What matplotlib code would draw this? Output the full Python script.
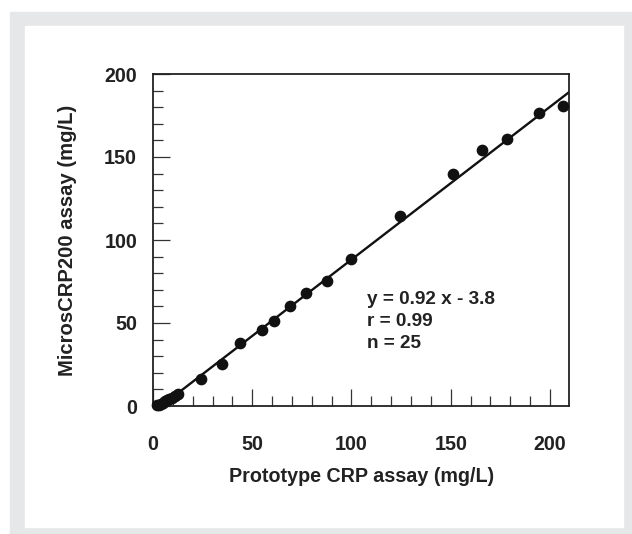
import numpy as np
import matplotlib
matplotlib.use('Agg')
import matplotlib.pyplot as plt
from matplotlib.patches import Rectangle
from matplotlib.ticker import MultipleLocator

plt.rcParams['font.family'] = ['Liberation Sans', 'DejaVu Sans']
plt.rcParams['font.weight'] = 'bold'

# data
prototype = [2, 3, 4, 5, 6, 7, 8, 9.5, 11, 12.8,
             24.0, 34.6, 43.8, 54.9, 61.1, 69.0, 77.1, 87.5, 99.7,
             124.4, 151.3, 165.9, 178.6, 194.5, 206.5]
micros = [0.4, 0.9, 1.5, 2.1, 2.8, 3.4, 4.1, 5.0, 5.9, 7.0,
          16.3, 25.3, 38.1, 45.8, 51.2, 60.2, 67.9, 75.3, 88.4,
          114.6, 139.6, 154.2, 160.6, 176.7, 180.7]
slope = 0.92
intercept = -3.8
stats_text = "y = 0.92 x - 3.8\nr = 0.99\nn = 25"

W, H = 632, 534
fig = plt.figure(figsize=(W/100, H/100), dpi=100)

# grey frame + white panel (pixel boxes)
fig.patches.append(Rectangle((10/W, 0), 1 - 10/W, 1 - 12/H,
                             transform=fig.transFigure, color='#e6e7e9', zorder=-2))
fig.patches.append(Rectangle((25/W, 1 - 527/H), (623-25)/W, (527-26)/H,
                             transform=fig.transFigure, color='white', zorder=-1))

ax = fig.add_axes([153/W, 1 - 406/H, (569-153)/W, (406-74)/H])
ax.set_xlim(0, 209.6)
ax.set_ylim(0, 200)

xx = np.array([0, 209.6])
ax.plot(xx, slope*xx + intercept, color='#111111', lw=1.7, zorder=2)
ax.scatter(prototype, micros, s=55, color='#111111', zorder=3, clip_on=False)

ax.xaxis.set_major_locator(MultipleLocator(50))
ax.xaxis.set_minor_locator(MultipleLocator(10))
ax.yaxis.set_major_locator(MultipleLocator(50))
ax.yaxis.set_minor_locator(MultipleLocator(10))
ax.tick_params(which='both', direction='in', top=False, right=False, width=0.9,
               color='#333333', labelcolor='#222222')
ax.tick_params(which='major', length=12, labelsize=14.2)
ax.tick_params(axis='x', which='major', pad=21)
ax.tick_params(axis='y', which='major', pad=11.5)
ax.tick_params(which='minor', length=7)
for sp in ax.spines.values():
    sp.set_linewidth(1.3)
    sp.set_color('#222222')

ax.set_xlabel('Prototype CRP assay (mg/L)', fontsize=14.2, fontweight='bold',
              color='#222222', va='center')
ax.xaxis.set_label_coords((362-153)/416, (406-477)/332)
ax.set_ylabel('MicrosCRP200 assay (mg/L)', fontsize=14.6, fontweight='bold',
              color='#222222', va='center')
ax.yaxis.set_label_coords((67.5-153)/416, 0.5)

ax.text(107.8, 69, stats_text, fontsize=13.7, fontweight='bold', va='top', ha='left',
        linespacing=1.35, color='#222222')

fig.savefig('out.png', dpi=100)
